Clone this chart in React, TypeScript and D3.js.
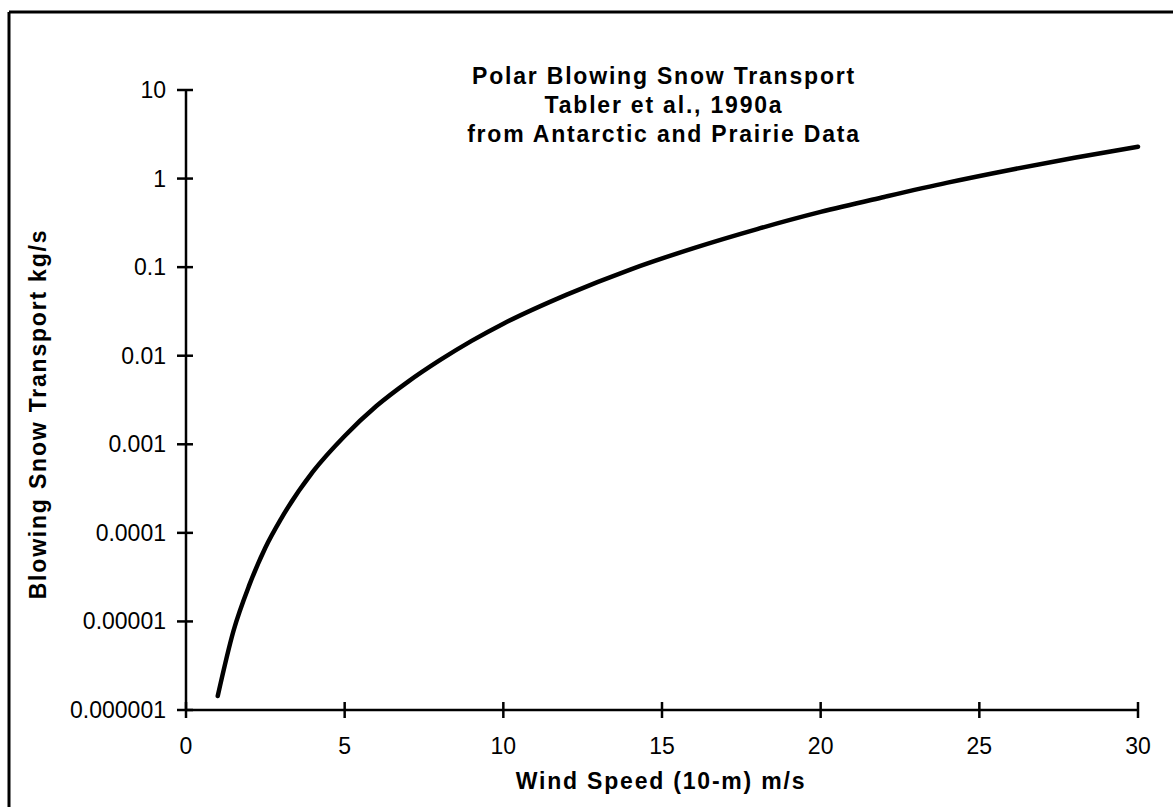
import React from "react";
import * as d3 from "d3";

const WIDTH = 1173;
const HEIGHT = 807;

// Wind speed (10-m) m/s
const windSpeed = [1, 1.5, 2, 2.5, 3, 4, 5, 6, 7, 8, 9, 10, 12, 14, 16, 18, 20, 22, 24, 26, 28, 30];
// Blowing snow transport kg/s
const transport = [1.44e-6, 7.9e-6, 2.6e-5, 6.8e-5, 1.45e-4, 4.9e-4, 1.24e-3, 2.7e-3, 5.1e-3, 8.9e-3, 1.47e-2, 2.3e-2, 4.9e-2, 9.4e-2, 0.164, 0.269, 0.42, 0.62, 0.9, 1.26, 1.72, 2.29];

const xTicks = [0, 5, 10, 15, 20, 25, 30];
const yTickValues = [10, 1, 0.1, 0.01, 0.001, 0.0001, 0.00001, 0.000001];
const yTickLabels = ["10", "1", "0.1", "0.01", "0.001", "0.0001", "0.00001", "0.000001"];

const titleLines = ["Polar Blowing Snow Transport", "Tabler et al., 1990a", "from Antarctic and Prairie Data"];
const xTitle = "Wind Speed (10-m) m/s";
const yTitle = "Blowing Snow Transport kg/s";

export default function App() {
  const x = d3.scaleLinear().domain([0, 30]).range([186, 1138]);
  const y = d3.scaleLog().domain([1e-6, 10]).range([710, 90]);
  const pts: [number, number][] = windSpeed.map((w, i) => [w, transport[i]]);
  const line = d3
    .line<[number, number]>()
    .x((d) => x(d[0]))
    .y((d) => y(d[1]))
    .curve(d3.curveMonotoneX);

  const font = "'Liberation Sans', Arial, Helvetica, sans-serif";
  const x0 = x(0);
  const y0 = y(1e-6);

  return (
    <svg
      width={WIDTH}
      height={HEIGHT}
      style={{ position: "absolute", left: 0, top: 0, background: "#fff" }}
      fontFamily={font}
    >
      <rect x={0} y={0} width={WIDTH} height={HEIGHT} fill="#fff" />
      {/* frame */}
      <line x1={9} y1={12} x2={WIDTH} y2={12} stroke="#000" strokeWidth={3} />
      <line x1={9} y1={12} x2={9} y2={HEIGHT} stroke="#000" strokeWidth={3} />

      {/* axes */}
      <line x1={x0} y1={y(10)} x2={x0} y2={y0} stroke="#000" strokeWidth={2.5} />
      <line x1={x0} y1={y0} x2={x(30)} y2={y0} stroke="#000" strokeWidth={2.5} />

      {yTickValues.map((v, i) => (
        <g key={"y" + i}>
          <line x1={x0 - 9} x2={x0 + 7} y1={y(v)} y2={y(v)} stroke="#000" strokeWidth={2.5} />
          <text x={166} y={y(v) + 8} fontSize={23} textAnchor="end" fill="#000">
            {yTickLabels[i]}
          </text>
        </g>
      ))}

      {xTicks.map((v) => (
        <g key={"x" + v}>
          <line x1={x(v)} x2={x(v)} y1={y0 - 8} y2={y0 + 8} stroke="#000" strokeWidth={2.5} />
          <text x={x(v)} y={754} fontSize={23} textAnchor="middle" fill="#000">
            {String(v)}
          </text>
        </g>
      ))}

      {/* curve */}
      <path d={line(pts) || ""} fill="none" stroke="#000" strokeWidth={4.5} strokeLinecap="round" />

      {/* titles */}
      {titleLines.map((t, i) => (
        <text
          key={"t" + i}
          x={664}
          y={84 + i * 29}
          fontSize={23}
          fontWeight="bold"
          textAnchor="middle"
          letterSpacing={1.8}
          fill="#000"
        >
          {t}
        </text>
      ))}

      <text x={661} y={789} fontSize={23} fontWeight="bold" textAnchor="middle" letterSpacing={1.8} fill="#000">
        {xTitle}
      </text>
      <text
        transform={`translate(46, 414) rotate(-90)`}
        fontSize={23}
        fontWeight="bold"
        textAnchor="middle"
        letterSpacing={1.8}
        fill="#000"
      >
        {yTitle}
      </text>
    </svg>
  );
}
